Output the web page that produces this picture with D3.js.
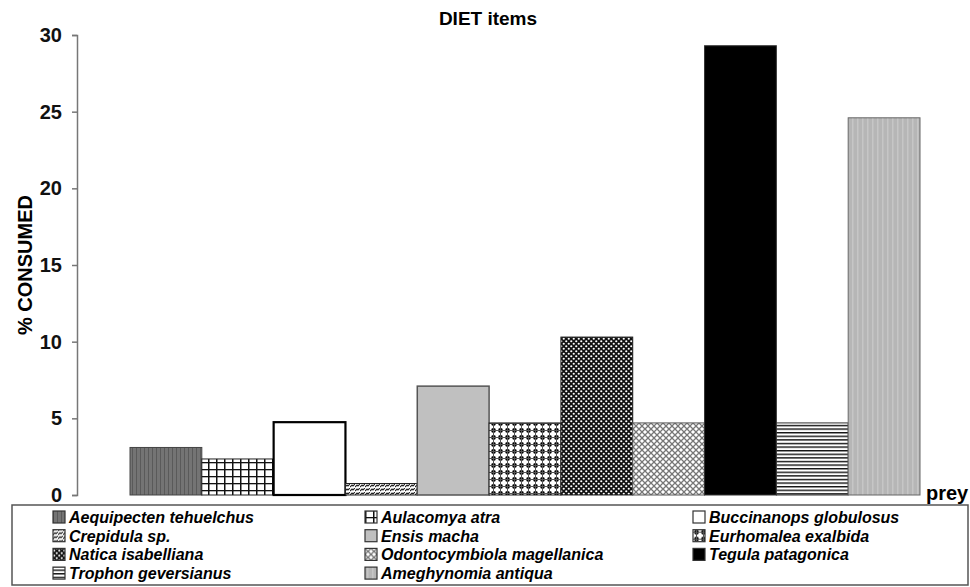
<!DOCTYPE html>
<html>
<head>
<meta charset="utf-8">
<script src="https://cdn.jsdelivr.net/npm/d3@7"></script>
<style>
  body { margin: 0; background: #fff; }
  text { font-family: "Liberation Sans", Arial, sans-serif; font-weight: bold; }
</style>
</head>
<body>
<svg id="chart" width="970" height="587"></svg>
<script>
// prey items and % consumed
var prey = ["Aequipecten tehuelchus", "Aulacomya atra", "Buccinanops globulosus",
            "Crepidula sp.", "Ensis macha", "Eurhomalea exalbida",
            "Natica isabelliana", "Odontocymbiola magellanica", "Tegula patagonica",
            "Trophon geversianus", "Ameghynomia antiqua"];
var consumed = [3.1, 2.35, 4.75, 0.75, 7.1, 4.7, 10.3, 4.7, 29.3, 4.7, 24.6];
var yTicks = [0, 5, 10, 15, 20, 25, 30];

// fill + border per item
var fills = ["url(#p-aeq)", "url(#p-grid)", "#fff", "url(#p-crep)", "#c0c0c0",
             "url(#p-dots)", "url(#p-check)", "url(#p-diag)", "#000", "url(#p-horiz)", "url(#p-ameg)"];
var strokes = ["#444", "#222", "#000", "#222", "#555", "#222", "#222", "#555", "#333", "#333", "#666"];
var strokeW = [1, 1, 2.2, 1, 1.5, 1, 1, 1, 1, 1, 1];

var svg = d3.select("#chart");
var defs = svg.append("defs");

function pat(id, w, h) {
    return defs.append("pattern").attr("id", id).attr("patternUnits", "userSpaceOnUse")
        .attr("width", w).attr("height", h);
}
var p;
p = pat("p-aeq", 4, 4);
p.append("rect").attr("width", 4).attr("height", 4).attr("fill", "#747474");
p.append("rect").attr("width", 1).attr("height", 4).attr("fill", "#5a5a5a");

p = pat("p-grid", 8, 7);
p.append("rect").attr("width", 8).attr("height", 7).attr("fill", "#fff");
p.append("rect").attr("width", 1.5).attr("height", 7).attr("fill", "#111");
p.append("rect").attr("width", 8).attr("height", 1.3).attr("fill", "#111");

p = pat("p-crep", 5, 4);
p.append("rect").attr("width", 5).attr("height", 4).attr("fill", "#fff");
p.append("path").attr("d", "M0,3 L2,1 L3,2 L5,0").attr("stroke", "#222").attr("stroke-width", 1.1).attr("fill", "none");

p = pat("p-dots", 7, 7);
p.append("rect").attr("width", 7).attr("height", 7).attr("fill", "#fff");
p.append("circle").attr("cx", 3.5).attr("cy", 3.5).attr("r", 2.4).attr("fill", "#000");
p.append("rect").attr("x", 3).attr("width", 1).attr("height", 7).attr("fill", "#555");
p.append("rect").attr("y", 3).attr("width", 7).attr("height", 1).attr("fill", "#555");

p = pat("p-check", 5, 5);
p.append("rect").attr("width", 5).attr("height", 5).attr("fill", "#111");
p.append("circle").attr("cx", 1.25).attr("cy", 1.25).attr("r", 1.1).attr("fill", "#fff");
p.append("circle").attr("cx", 3.75).attr("cy", 3.75).attr("r", 1.1).attr("fill", "#fff");

p = pat("p-diag", 6, 6);
p.append("rect").attr("width", 6).attr("height", 6).attr("fill", "#fff");
p.append("path").attr("d", "M0,0 L6,6 M6,0 L0,6").attr("stroke", "#777").attr("stroke-width", 1.3);

p = pat("p-horiz", 4, 3.6);
p.append("rect").attr("width", 4).attr("height", 3.6).attr("fill", "#fff");
p.append("rect").attr("width", 4).attr("height", 1.4).attr("fill", "#111");

p = pat("p-ameg", 5, 5);
p.append("rect").attr("width", 5).attr("height", 5).attr("fill", "#b6b6b6");
p.append("rect").attr("x", 2).attr("width", 1.5).attr("height", 5).attr("fill", "#c6c6c6");

// scales
var x = d3.scaleBand().domain(prey).range([130, 920]).padding(0);
var y = d3.scaleLinear().domain([0, 30]).range([495, 35]);

// title
svg.append("text").attr("x", 488).attr("y", 25).attr("text-anchor", "middle")
    .style("font-size", "19px").text("DIET items");

// y axis
var yAxis = svg.append("g").attr("transform", "translate(77,0)")
    .call(d3.axisLeft(y).tickValues(yTicks).tickSize(5).tickPadding(10));
yAxis.select(".domain").attr("stroke", "#777").attr("stroke-width", 1.5);
yAxis.selectAll(".tick line").attr("stroke", "#777").attr("stroke-width", 1.5);
yAxis.selectAll(".tick text").style("font-size", "20px").style("font-weight", "bold")
    .style("font-family", "Liberation Sans, Arial, sans-serif").attr("fill", "#111");

svg.append("text").attr("transform", "translate(32,265) rotate(-90)")
    .attr("text-anchor", "middle").style("font-size", "20px").text("% CONSUMED");

// bars
svg.append("g").selectAll("rect").data(prey).enter().append("rect")
    .attr("x", function(d) { return x(d); })
    .attr("y", function(d, i) { return y(consumed[i]); })
    .attr("width", x.bandwidth())
    .attr("height", function(d, i) { return y(0) - y(consumed[i]); })
    .attr("fill", function(d, i) { return fills[i]; })
    .attr("stroke", function(d, i) { return strokes[i]; })
    .attr("stroke-width", function(d, i) { return strokeW[i]; });

svg.append("text").attr("x", 926).attr("y", 500).style("font-size", "20px").text("prey");

// legend
svg.append("rect").attr("x", 12).attr("y", 505).attr("width", 956).attr("height", 80)
    .attr("fill", "none").attr("stroke", "#555").attr("stroke-width", 1.5);

var colX = [53, 365, 693];
var leg = svg.append("g").selectAll("g").data(prey).enter().append("g")
    .attr("transform", function(d, i) {
        return "translate(" + colX[i % 3] + "," + (517 + Math.floor(i / 3) * 18.7) + ")";
    });
leg.append("rect").attr("x", 0).attr("y", -6).attr("width", 12).attr("height", 12)
    .attr("fill", function(d, i) { return fills[i]; })
    .attr("stroke", "#333").attr("stroke-width", 1.2);
leg.append("text").attr("x", 16).attr("y", 6).style("font-size", "16px")
    .style("font-style", "italic").text(function(d) { return d; });
</script>
</body>
</html>
